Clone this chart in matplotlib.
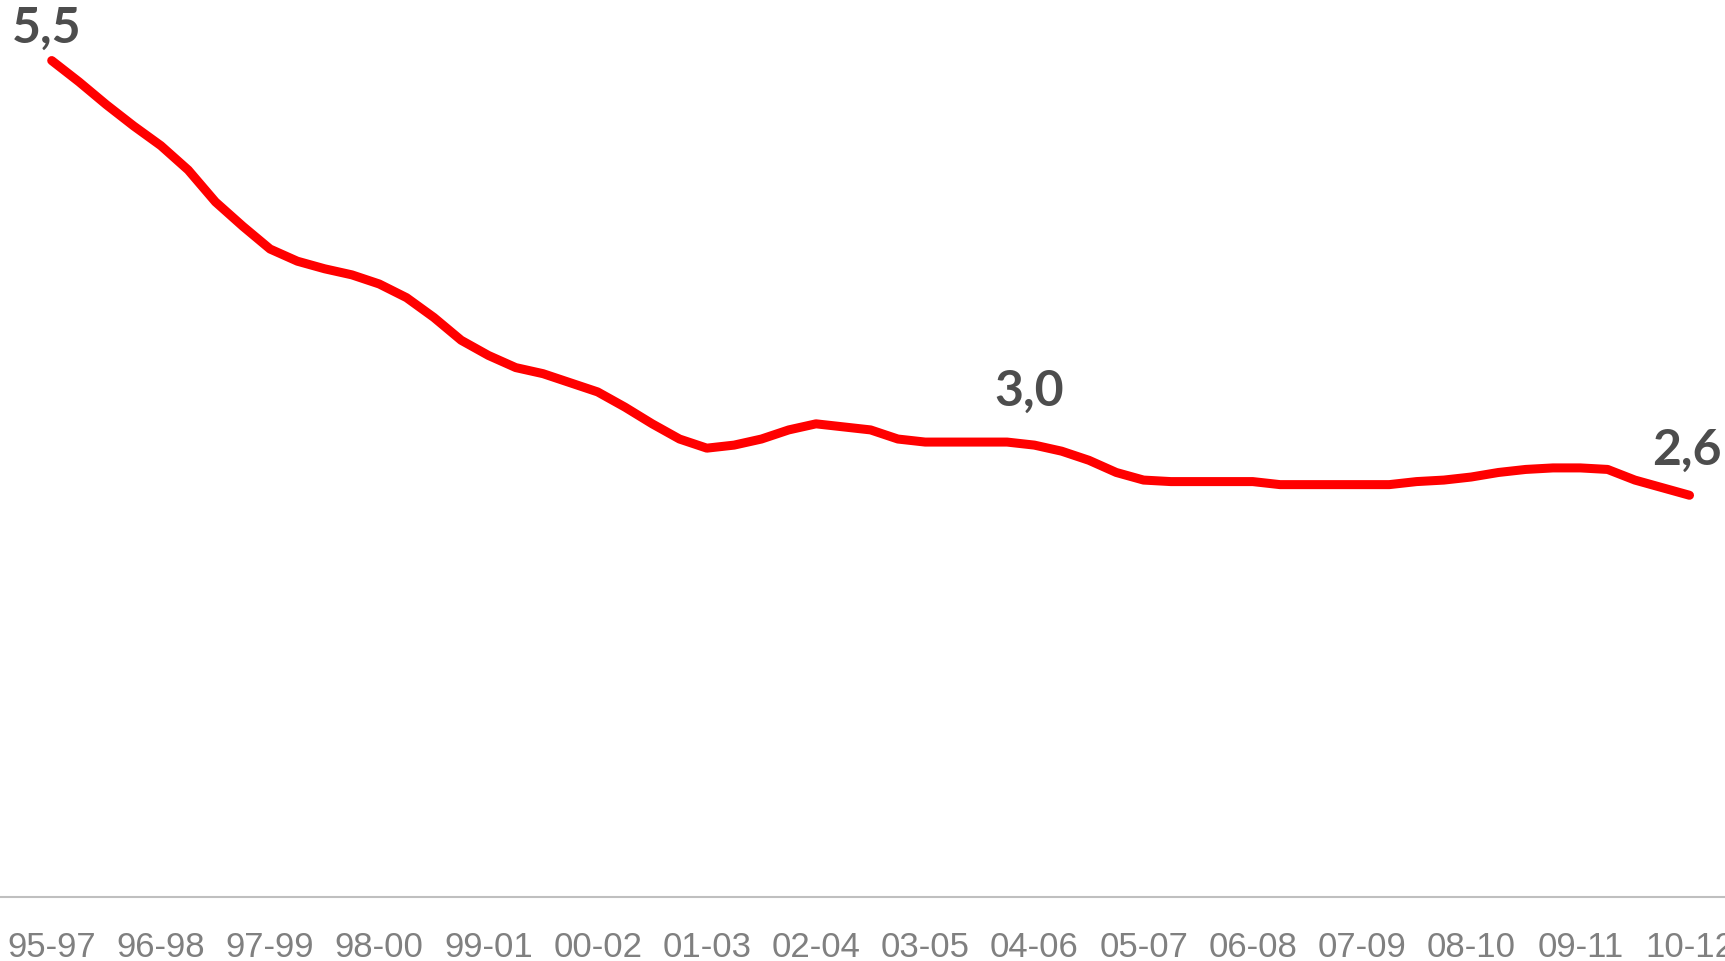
import matplotlib
matplotlib.use("Agg")
import matplotlib.pyplot as plt

# rullande treårsmedel, kvartalsvis
periods = ["95-97", "96-98", "97-99", "98-00", "99-01", "00-02", "01-03", "02-04",
           "03-05", "04-06", "05-07", "06-08", "07-09", "08-10", "09-11", "10-12"]
values = [5.50, 5.36, 5.21, 5.07, 4.94, 4.78, 4.57, 4.41, 4.26, 4.18,
          4.13, 4.09, 4.03, 3.94, 3.81, 3.66, 3.56, 3.48, 3.44, 3.38,
          3.32, 3.22, 3.11, 3.01, 2.95, 2.97, 3.01, 3.07, 3.11, 3.09,
          3.07, 3.01, 2.99, 2.99, 2.99, 2.99, 2.97, 2.93, 2.87, 2.79,
          2.74, 2.73, 2.73, 2.73, 2.73, 2.71, 2.71, 2.71, 2.71, 2.71,
          2.73, 2.74, 2.76, 2.79, 2.81, 2.82, 2.82, 2.81, 2.74, 2.69,
          2.64]
label_idx = [0, 36, 60]
label_offsets = [(-5, 33), (-5, 55), (-3, 46)]  # pixels

fig = plt.figure(figsize=(17.25, 9.62), dpi=100)
ax = fig.add_axes([0, 0.067, 1, 0.933])

x = list(range(len(values)))
ax.plot(x, values, color="#FF0000", lw=6.5, solid_capstyle="round", solid_joinstyle="round")

for i, off in zip(label_idx, label_offsets):
    txt = f"{values[i]:.1f}".replace(".", ",")
    ax.annotate(txt, (i, values[i]), xytext=off, textcoords="offset pixels",
                ha="center", va="center", fontsize=36, fontweight="bold",
                color="#4D4D4D", family="Lato")

ax.set_xlim(-1.894, 61.3)
ax.set_ylim(0, 5.905)
ax.set_xticks(range(0, len(values), 4))
ax.set_xticklabels(periods, fontsize=25, color="#808080", family="Liberation Sans")
ax.tick_params(axis="x", length=0, pad=24)
ax.set_yticks([])

for s in ["top", "right", "left"]:
    ax.spines[s].set_visible(False)
ax.spines["bottom"].set_color("#BFBFBF")
ax.spines["bottom"].set_linewidth(1.5)

fig.savefig("out.png", dpi=100)
